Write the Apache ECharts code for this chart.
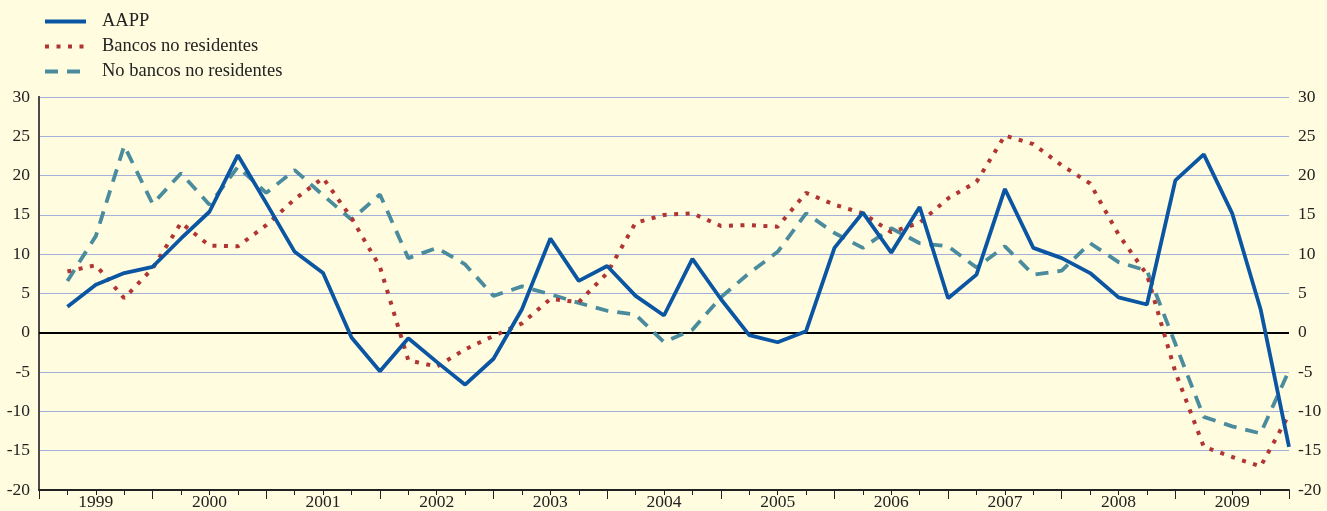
<!DOCTYPE html>
<html>
<head>
<meta charset="utf-8">
<script src="https://cdn.jsdelivr.net/npm/echarts@6/dist/echarts.min.js"></script>
<style>
    html, body { margin: 0; padding: 0; background: #fffcdf; }
    #chart { width: 1327px; height: 511px; }
</style>
</head>
<body>
<div id="chart"></div>
<script>
    // trimestres 1999T1 .. 2009T4, valor al final de cada trimestre
    var firstYear = 1999;
    var aapp = [3.3, 6.1, 7.6, 8.4, 12.0, 15.4, 22.6, 16.5, 10.3, 7.6,
        -0.6, -4.9, -0.7, -3.7, -6.6, -3.3, 3.0, 12.0, 6.6, 8.5,
        4.7, 2.2, 9.4, 4.3, -0.3, -1.2, 0.2, 10.8, 15.3, 10.2,
        16.0, 4.4, 7.4, 18.3, 10.8, 9.5, 7.6, 4.5, 3.6, 19.4,
        22.7, 15.2, 3.0, -14.5];
    var bancosNoRes = [7.8, 8.6, 4.4, 8.2, 14.0, 11.1, 11.0, 13.7, 17.0, 19.7,
        14.6, 8.4, -3.5, -4.3, -2.1, -0.4, 1.2, 4.3, 3.9, 7.6,
        14.0, 15.0, 15.2, 13.6, 13.7, 13.5, 17.8, 16.3, 15.2, 12.8,
        14.0, 17.1, 19.2, 25.1, 24.0, 21.3, 19.0, 12.5, 7.4, -5.0,
        -14.5, -15.8, -17.0, -10.4];
    var noBancosNoRes = [6.6, 12.3, 23.8, 16.4, 20.3, 16.3, 21.1, 17.8, 20.7, 17.5,
        14.4, 17.6, 9.5, 10.8, 8.7, 4.7, 5.9, 4.9, 3.8, 2.8,
        2.3, -1.2, 0.4, 4.5, 7.6, 10.3, 15.2, 12.7, 10.8, 13.3,
        11.4, 11.0, 8.3, 11.0, 7.4, 7.9, 11.4, 9.0, 7.9, -1.4,
        -10.7, -11.9, -12.8, -4.8];
    var yTicks = [-20, -15, -10, -5, 0, 5, 10, 15, 20, 25, 30];

    var font = 'Liberation Serif';
    var nQ = aapp.length;

    function toPoints (arr) {
        return arr.map(function (v, i) { return [i + 1, v]; });
    }

    var chart = echarts.init(document.getElementById('chart'));

    var yAxisBase = {
        type: 'value',
        min: yTicks[0],
        max: yTicks[yTicks.length - 1],
        interval: 5,
        axisLine: { show: true, lineStyle: { color: '#4a4a4a', width: 2 } },
        axisTick: { show: false },
        axisLabel: { color: '#222', fontFamily: font, fontSize: 17.5, margin: 9 }
    };

    chart.setOption({
        backgroundColor: '#fffcdf',
        animation: false,
        grid: { left: 39, right: 38, top: 97, bottom: 19 },
        legend: {
            orient: 'vertical',
            left: 38,
            top: 7,
            itemWidth: 41,
            itemHeight: 14,
            itemGap: 6,
            data: ['AAPP', 'Bancos no residentes', 'No bancos no residentes'],
            itemStyle: { opacity: 0 },
            lineStyle: { width: 4 },
            textStyle: { color: '#222', fontFamily: font, fontSize: 18.5, padding: [0, 0, 0, 11] }
        },
        xAxis: [
            {
                type: 'value',
                min: 0,
                max: nQ,
                interval: 1,
                axisLine: { show: true, onZero: false, lineStyle: { color: '#222', width: 2 } },
                axisTick: { show: true, length: 5, lineStyle: { color: '#222' } },
                splitLine: { show: false },
                axisLabel: {
                    color: '#222', fontFamily: font, fontSize: 17.5, margin: 3,
                    formatter: function (v) {
                        return v % 4 === 2 ? String(firstYear + (v - 2) / 4) : '';
                    }
                }
            },
            {
                type: 'value',
                min: 0,
                max: nQ,
                interval: 4,
                position: 'bottom',
                axisLine: { show: false, onZero: false },
                axisTick: { show: true, length: 9, lineStyle: { color: '#222' } },
                splitLine: { show: false },
                axisLabel: { show: false }
            }
        ],
        yAxis: [
            Object.assign({}, yAxisBase, {
                position: 'left',
                splitLine: { show: true, lineStyle: { color: '#a3b0da', width: 1.2 } }
            }),
            Object.assign({}, yAxisBase, {
                position: 'right',
                splitLine: { show: false }
            })
        ],
        series: [
            {
                name: 'No bancos no residentes',
                type: 'line',
                data: toPoints(noBancosNoRes),
                symbol: 'none',
                lineStyle: { color: '#4a8c9e', width: 3.8, type: [13, 9] },
                itemStyle: { color: '#4a8c9e' },
                z: 3
            },
            {
                name: 'Bancos no residentes',
                type: 'line',
                data: toPoints(bancosNoRes),
                symbol: 'none',
                lineStyle: { color: '#b03533', width: 4, type: [4, 7.5] },
                itemStyle: { color: '#b03533' },
                z: 4
            },
            {
                name: 'AAPP',
                type: 'line',
                data: toPoints(aapp),
                symbol: 'none',
                lineStyle: { color: '#0b56a2', width: 3.8 },
                itemStyle: { color: '#0b56a2' },
                z: 5,
                markLine: {
                    silent: true,
                    symbol: 'none',
                    label: { show: false },
                    lineStyle: { color: '#000', width: 2, type: 'solid' },
                    data: [{ yAxis: 0 }],
                    z: 2
                }
            }
        ]
    });
</script>
</body>
</html>
